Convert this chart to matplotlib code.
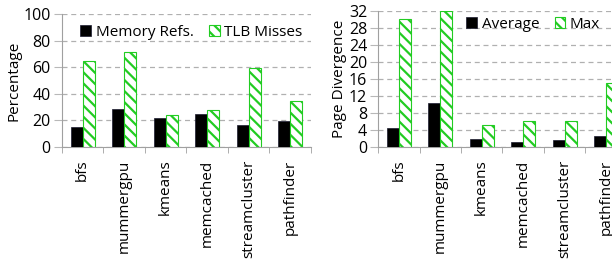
import matplotlib
matplotlib.use("Agg")
import matplotlib.pyplot as plt
import numpy as np

plt.rcParams['font.family'] = ['Open Sans', 'DejaVu Sans']
plt.rcParams['hatch.linewidth'] = 1.6

categories = ["bfs", "mummergpu", "kmeans", "memcached", "streamcluster", "pathfinder"]
mem_refs = [15, 28.6, 21.5, 24.8, 16.5, 19.8]
tlb_misses = [64.7, 71.3, 24.3, 27.6, 59.4, 34.6]
avg_div = [4.5, 10.3, 1.8, 1.25, 1.6, 2.6]
max_div = [30, 32, 5.1, 6.1, 6.1, 15]

GREEN = "#22cc22"
fig = plt.figure(figsize=(6.12, 2.63), dpi=100)

def draw(ax, a, b, la, lb, ylim, yticks, ylabel, legend_loc):
    x = np.arange(len(categories))
    w = 0.29
    ax.bar(x - w/2, a, w, color="black", edgecolor="#1a1a2e", linewidth=0.5, label=la, zorder=3)
    ax.bar(x + w/2, b, w, color="white", edgecolor=GREEN, hatch="\\\\\\", linewidth=0.8, label=lb, zorder=3)
    ax.set_xlim(-0.5, len(categories) - 0.5)
    ax.set_ylim(*ylim)
    ax.set_yticks(yticks)
    ax.yaxis.grid(True, linestyle=(0, (4, 3)), color="#b0b0b0", linewidth=0.9, zorder=0)
    ax.set_axisbelow(True)
    for s in ["top", "right"]:
        ax.spines[s].set_visible(False)
    ax.spines["left"].set_color("#a0a0a0")
    ax.spines["bottom"].set_color("#a0a0a0")
    ax.tick_params(axis="y", length=6, color="#b8b8b8", labelsize=11.5, pad=2)
    ax.set_xticks(x)
    ax.set_xticklabels(categories, rotation=90, fontsize=11)
    ax.tick_params(axis="x", length=0, pad=9)
    ax.set_xticks(np.arange(len(categories) + 1) - 0.5, minor=True)
    ax.tick_params(axis="x", which="minor", length=4, color="#a0a0a0")
    ax.set_ylabel(ylabel, fontsize=11, labelpad=1)
    ax.legend(loc=legend_loc, ncol=2, frameon=False, fontsize=11,
              handlelength=0.7, handleheight=0.7, handletextpad=0.3,
              columnspacing=1.0, borderaxespad=0.1)

ax1 = fig.add_axes([0.101, 0.441, 0.407, 0.506])
draw(ax1, mem_refs, tlb_misses, "Memory Refs.", "TLB Misses", (0, 100),
     [0, 20, 40, 60, 80, 100], "Percentage", (0.05, 0.76))

ax2 = fig.add_axes([0.618, 0.441, 0.406, 0.518])
draw(ax2, avg_div, max_div, "Average", "Max", (0, 32),
     [0, 4, 8, 12, 16, 20, 24, 28, 32], "Page Divergence", (0.33, 0.80))

fig.savefig("out.png", dpi=100)
